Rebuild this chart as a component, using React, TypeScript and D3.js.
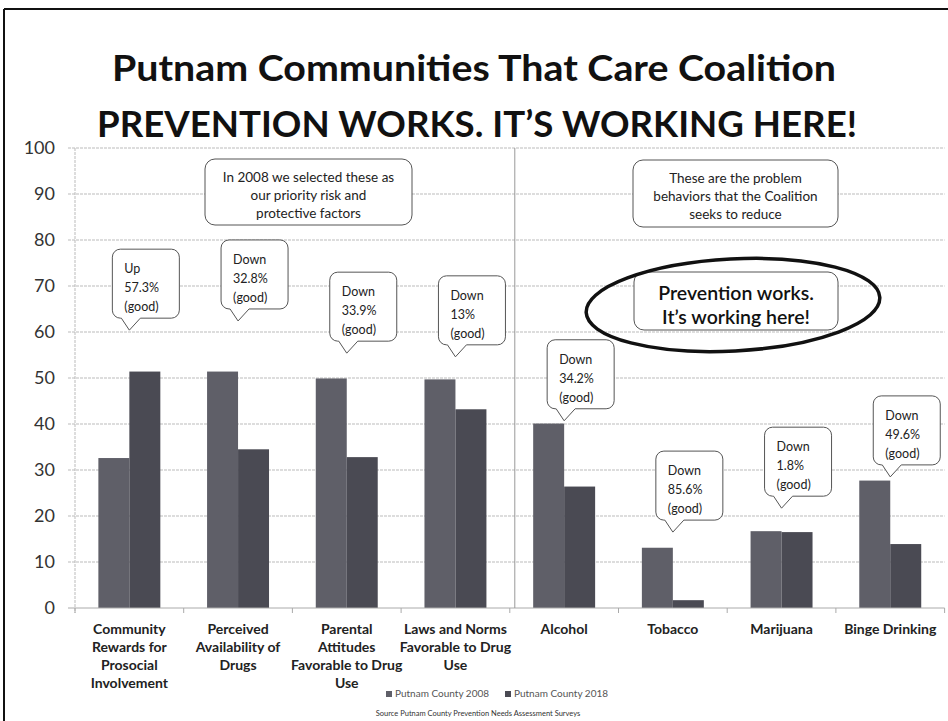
import React from "react";
import * as d3 from "d3";

const categories = [
  ["Community", "Rewards for", "Prosocial", "Involvement"],
  ["Perceived", "Availability of", "Drugs"],
  ["Parental", "Attitudes", "Favorable to Drug", "Use"],
  ["Laws and Norms", "Favorable to Drug", "Use"],
  ["Alcohol"],
  ["Tobacco"],
  ["Marijuana"],
  ["Binge Drinking"],
];
const categoryKeys = categories.map((c) => c.join(" "));
const series = ["Putnam County 2008", "Putnam County 2018"];
const values2008 = [32.6, 51.4, 49.9, 49.7, 40.1, 13.1, 16.7, 27.7];
const values2018 = [51.4, 34.5, 32.8, 43.2, 26.4, 1.7, 16.5, 13.9];
const yTicks = [0, 10, 20, 30, 40, 50, 60, 70, 80, 90, 100];
const calloutTexts = [
  ["Up", "57.3%", "(good)"],
  ["Down", "32.8%", "(good)"],
  ["Down", "33.9%", "(good)"],
  ["Down", "13%", "(good)"],
  ["Down", "34.2%", "(good)"],
  ["Down", "85.6%", "(good)"],
  ["Down", "1.8%", "(good)"],
  ["Down", "49.6%", "(good)"],
];
// value (in chart units) at which each callout's pointer ends
const calloutTipValues = [60.4, 62.4, 55.4, 54.6, 40.7, 16.5, 21.7, 28.5];
const titleLines = ["Putnam Communities That Care Coalition", "PREVENTION WORKS. IT\u2019S WORKING HERE!"];
const noteLeft = ["In 2008 we selected these as", "our priority risk and", "protective factors"];
const noteRight = ["These are the problem", "behaviors that the Coalition", "seeks to reduce"];
const noteHighlight = ["Prevention works.", "It\u2019s working here!"];
const sourceText = "Source  Putnam County Prevention Needs Assessment Surveys";

const W = 948;
const H = 721;
const FONT = "Lato, 'Open Sans', sans-serif";
const colors = ["#5f5f68", "#4a4a53"];

export default function App() {
  const left = 75;
  const right = 944.6;
  const top = 148;
  const bottom = 608;

  const x = d3
    .scaleBand<string>()
    .domain(categoryKeys)
    .range([left, right])
    .paddingInner(0.43)
    .paddingOuter(0.215);
  const xs = d3.scaleBand<string>().domain(series).range([0, x.bandwidth()]);
  const y = d3.scaleLinear().domain([0, 100]).range([bottom, top]);

  const step = x.step();
  const boundary = (i: number) => (x(categoryKeys[i]) as number) - (step - x.bandwidth()) / 2;
  const dividerX = boundary(4) + 5;

  const calloutPath = (cx: number, tipY: number) => {
    const l = cx - 17;
    const R = l + 67;
    const B = tipY - 12;
    const t = B - 69;
    const r = 8;
    return `M${l + r},${t} L${R - r},${t} A${r},${r} 0 0 1 ${R},${t + r} L${R},${B - r} A${r},${r} 0 0 1 ${R - r},${B} L${l + 28},${B} L${cx},${tipY} L${l + 9},${B} L${l + r},${B} A${r},${r} 0 0 1 ${l},${B - r} L${l},${t + r} A${r},${r} 0 0 1 ${l + r},${t} Z`;
  };

  return (
    <svg
      width={W}
      height={H}
      style={{ position: "absolute", left: 0, top: 0, background: "#fff" }}
      fontFamily={FONT}
    >
      {/* frame */}
      <line x1={4} y1={9} x2={W} y2={9} stroke="#111" strokeWidth={2} />
      <line x1={4} y1={9} x2={4} y2={H} stroke="#111" strokeWidth={2} />

      {/* title */}
      <text x={474} y={81} textAnchor="middle" fontSize={36} fontWeight={700} fill="#111" textLength={724} lengthAdjust="spacingAndGlyphs">
        {titleLines[0]}
      </text>
      <text x={477} y={137} textAnchor="middle" fontSize={36} fontWeight={700} fill="#111" textLength={760} lengthAdjust="spacingAndGlyphs">
        {titleLines[1]}
      </text>

      {/* gridlines and y labels */}
      {yTicks.map((t) => (
        <g key={t}>
          {t > 0 && (
            <line x1={68} x2={right} y1={y(t)} y2={y(t)} stroke="#bbb" strokeWidth={1} strokeDasharray="3,1" />
          )}
          <text x={55} y={y(t) + 6} textAnchor="end" fontSize={18} fill="#333">
            {t}
          </text>
        </g>
      ))}
      <line x1={left} x2={left} y1={top} y2={bottom + 5} stroke="#bbb" strokeWidth={1} strokeDasharray="3,1" />

      {/* bars */}
      {categoryKeys.map((k, i) => (
        <g key={k}>
          {[values2008[i], values2018[i]].map((v, s) => (
            <rect
              key={s}
              x={(x(k) as number) + (xs(series[s]) as number)}
              y={y(v)}
              width={xs.bandwidth()}
              height={y(0) - y(v)}
              fill={colors[s]}
            />
          ))}
        </g>
      ))}

      {/* x axis */}
      <line x1={68} x2={right} y1={bottom} y2={bottom} stroke="#aaa" strokeWidth={1} />
      {d3.range(categoryKeys.length + 1).map((i) => (
        <line key={i} x1={i < categoryKeys.length ? boundary(i) : right} x2={i < categoryKeys.length ? boundary(i) : right} y1={bottom} y2={bottom + 5} stroke="#aaa" />
      ))}
      <line x1={dividerX} x2={dividerX} y1={top} y2={bottom} stroke="#999" strokeWidth={1} />

      {categories.map((lines, i) => (
        <text key={i} textAnchor="middle" fontSize={14} fontWeight={700} fill="#222">
          {lines.map((ln, j) => (
            <tspan key={j} x={(x(categoryKeys[i]) as number) + x.bandwidth() / 2} y={634 + j * 18}>
              {ln}
            </tspan>
          ))}
        </text>
      ))}

      {/* callouts */}
      {calloutTexts.map((lines, i) => {
        const cx = (x(categoryKeys[i]) as number) + x.bandwidth() / 2;
        const tipY = y(calloutTipValues[i]);
        const l = cx - 17;
        const t = tipY - 12 - 69;
        return (
          <g key={i}>
            <path d={calloutPath(cx, tipY)} fill="#fff" stroke="#555" strokeWidth={1} />
            {lines.map((ln, j) => (
              <text key={j} x={l + 12} y={t + 24 + j * 19} fontSize={12.5} fill="#222">
                {ln}
              </text>
            ))}
          </g>
        );
      })}

      {/* notes */}
      <rect x={205} y={159} width={207} height={66} rx={10} fill="#fff" stroke="#555" />
      {noteLeft.map((ln, j) => (
        <text key={j} x={308.5} y={182 + j * 18} textAnchor="middle" fontSize={13.5} fill="#222">
          {ln}
        </text>
      ))}
      <rect x={633} y={160} width={205} height={67} rx={10} fill="#fff" stroke="#555" />
      {noteRight.map((ln, j) => (
        <text key={j} x={735.5} y={183 + j * 18} textAnchor="middle" fontSize={13.5} fill="#222">
          {ln}
        </text>
      ))}
      <rect x={634} y={272} width={204} height={58} rx={10} fill="#fff" stroke="#555" />
      {noteHighlight.map((ln, j) => (
        <text key={j} x={736} y={300 + j * 24} textAnchor="middle" fontSize={19.5} fontWeight={600} fill="#111">
          {ln}
        </text>
      ))}
      <ellipse cx={733} cy={305} rx={147} ry={46} fill="none" stroke="#111" strokeWidth={3.5} transform="rotate(-3 733 305)" />

      {/* legend */}
      {series.map((s, i) => (
        <g key={s} transform={`translate(${i === 0 ? 386 : 505},697)`}>
          <rect x={0} y={-6} width={6} height={6} fill={colors[i]} />
          <text x={9} y={0} fontSize={10} fill="#555">
            {s}
          </text>
        </g>
      ))}
      <text x={478} y={716} textAnchor="middle" fontSize={7.5} fill="#333">
        {sourceText}
      </text>
    </svg>
  );
}
